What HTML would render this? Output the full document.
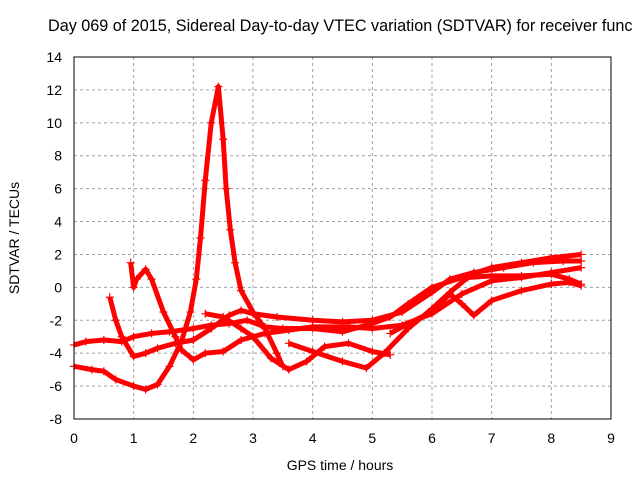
<!DOCTYPE html>
<html><head><meta charset="utf-8"><style>
body{margin:0;background:#fff}
svg text{font-family:"Liberation Sans",sans-serif;font-size:14px;fill:#000}
</style></head><body>
<svg id="chart" width="640" height="480" xmlns="http://www.w3.org/2000/svg">
<rect width="640" height="480" fill="#fff"/>
<text x="48" y="31" style="font-size:16.2px">Day 069 of 2015, Sidereal Day-to-day VTEC variation (SDTVAR) for receiver func</text>
<g id="grid"></g>
<g id="series"></g>
<rect x="74" y="57" width="537" height="362" fill="none" stroke="#000"/>
<g id="ticks"></g>
<text x="340" y="470" text-anchor="middle">GPS time / hours</text>
<text transform="translate(19,238) rotate(-90)" text-anchor="middle">SDTVAR / TECUs</text>
</svg>
<script>
const xTicks=[0,1,2,3,4,5,6,7,8,9];
const yTicks=[-8,-6,-4,-2,0,2,4,6,8,10,12,14];
const trace1=[[0,-4.8],[0.3,-5.0],[0.5,-5.1],[0.7,-5.6],[1.0,-6.0],[1.2,-6.2],[1.4,-5.9],[1.6,-4.8],[1.8,-3.3],[1.95,-1.5],[2.05,0.5],[2.12,3],[2.2,6.5],[2.3,10],[2.42,12.2],[2.5,9],[2.55,6],[2.62,3.5],[2.7,1.5],[2.8,-0.2],[3.0,-1.5],[3.2,-2.5],[3.4,-4],[3.5,-4.8]];
const trace2=[[0,-3.5],[0.2,-3.3],[0.5,-3.2],[0.8,-3.3],[1.0,-3.0],[1.3,-2.8],[1.6,-2.7],[2.0,-2.5],[2.3,-2.3],[2.6,-2.2],[2.9,-2.0],[3.2,-2.4],[3.5,-2.5],[4,-2.5],[4.5,-2.7],[5,-2.2],[5.3,-1.8],[5.6,-1.0],[6,0],[6.5,0.6],[7,1.2],[7.5,1.5],[8,1.8],[8.5,2.0]];
const trace3=[[0.6,-0.6],[0.7,-2],[0.8,-3],[1.0,-4.2],[1.2,-4],[1.4,-3.7],[1.7,-3.4],[2.0,-3.2],[2.3,-2.5],[2.6,-1.7],[2.8,-1.4],[3,-1.6],[3.4,-1.8],[4,-2.0],[4.5,-2.1],[5,-2.0],[5.5,-1.5],[6,-0.3],[6.3,0.5],[6.7,0.9],[7.2,1.2],[7.7,1.5],[8.2,1.6],[8.5,1.6]];
const trace4=[[0.95,1.5],[1.0,0],[1.05,0.5],[1.2,1.1],[1.3,0.5],[1.5,-1.5],[1.7,-3.0],[1.8,-3.8],[2.0,-4.4],[2.2,-4.0],[2.5,-3.9],[2.8,-3.2],[3.2,-2.8],[3.6,-2.6],[4,-2.4],[4.6,-2.4],[5,-2.5],[5.5,-2.3],[6,-1.6],[6.5,-0.4],[7,0.4],[7.5,0.6],[8,0.9],[8.5,1.2]];
const trace5=[[2.2,-1.6],[2.5,-1.8],[2.8,-2.5],[3.0,-3.0],[3.3,-4.3],[3.6,-5.0],[3.9,-4.5],[4.2,-3.6],[4.6,-3.4],[5,-3.9],[5.3,-4.1]];
const trace6=[[3.6,-3.4],[4.0,-3.9],[4.5,-4.5],[4.9,-4.9],[5.2,-4.0],[5.6,-2.5],[6.0,-1.3],[6.3,-0.3],[6.6,0.6],[7,0.7],[7.5,0.7],[8,0.8],[8.3,0.5],[8.5,0.2]];
const trace7=[[5.3,-2.8],[5.6,-2.2],[6.0,-1.5],[6.3,-0.4],[6.5,-1.0],[6.7,-1.7],[7,-0.8],[7.5,-0.2],[8,0.2],[8.3,0.3],[8.5,0.1]];
const traces=[trace1,trace2,trace3,trace4,trace5,trace6,trace7];
const NS="http://www.w3.org/2000/svg";
const X=v=>74+v*(537/9), Y=v=>57+(14-v)*(362/22);
const grid=document.getElementById('grid'),ticks=document.getElementById('ticks'),ser=document.getElementById('series');
function mk(t,a,p){const e=document.createElementNS(NS,t);for(const k in a)e.setAttribute(k,a[k]);p.appendChild(e);return e;}
xTicks.forEach(t=>{
 if(t>0&&t<9){const g=mk('line',{x1:X(t),x2:X(t),y1:57,y2:419,stroke:'#a0a0a0','stroke-dasharray':'3,3'},grid);
 
 }
 const l=mk('text',{x:X(t),y:443,'text-anchor':'middle'},ticks);l.textContent=t;
 
 
});
yTicks.forEach(t=>{
 if(t>-8&&t<14){const g=mk('line',{x1:74,x2:611,y1:Y(t),y2:Y(t),stroke:'#a0a0a0','stroke-dasharray':'3,3'},grid);
 
 }
 const l=mk('text',{x:62,y:Y(t)+5,'text-anchor':'end'},ticks);l.textContent=t;
 
 
});
traces.forEach((tr,i)=>{
 const p=mk('polyline',{points:tr.map(d=>X(d[0])+','+Y(d[1])).join(' '),fill:'none',stroke:'#f00','stroke-width':5,'stroke-linejoin':'round'},ser);
 
 
 tr.forEach(d=>{
  const m=mk('path',{d:`M${X(d[0])-4},${Y(d[1])}h8M${X(d[0])},${Y(d[1])-4}v8`,stroke:'#f00','stroke-width':1.2},ser);
  
  
 });
});
</script>
</body></html>
